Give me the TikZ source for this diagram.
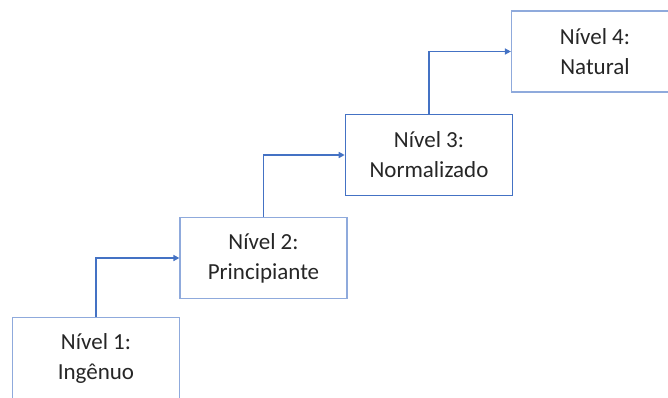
\documentclass[tikz,border=0pt]{standalone}
\usepackage{fontspec}
\setmainfont{Carlito}
\usetikzlibrary{positioning, arrows.meta}
\definecolor{lvlline}{HTML}{4472C4}
\definecolor{lvlbox}{HTML}{8FAADC}
\definecolor{lvltext}{HTML}{262626}

\begin{document}
\begin{tikzpicture}[x=1pt, y=-1pt,
    font=\fontsize{23}{30}\selectfont,
    lvl/.style={draw=lvlbox, line width=1.2pt, fill=white, text=lvltext,
                align=center, minimum width=167pt, minimum height=81pt, inner sep=0pt},
    conn/.style={draw=lvlline, line width=1.8pt, -{Triangle[length=6pt, width=6pt]}}]
    \useasboundingbox (0,0) rectangle (668,397);
    \clip (0,0) rectangle (668,397);
    \node[lvl] (n1) at (96,358) {Nível 1:\\ Ingênuo};
    \node[lvl] (n2) at (263.5,258) {Nível 2:\\ Principiante};
    \node[lvl, draw=lvlline, line width=1.6pt] (n3) at (429,155) {Nível 3:\\ Normalizado};
    \node[lvl] (n4) at (595,51.5) {Nível 4:\\ Natural};
    \foreach \a/\b in {n1/n2, n2/n3, n3/n4}
      \draw[conn] (\a.north) |- (\b.west);
  \end{tikzpicture}
\end{document}
